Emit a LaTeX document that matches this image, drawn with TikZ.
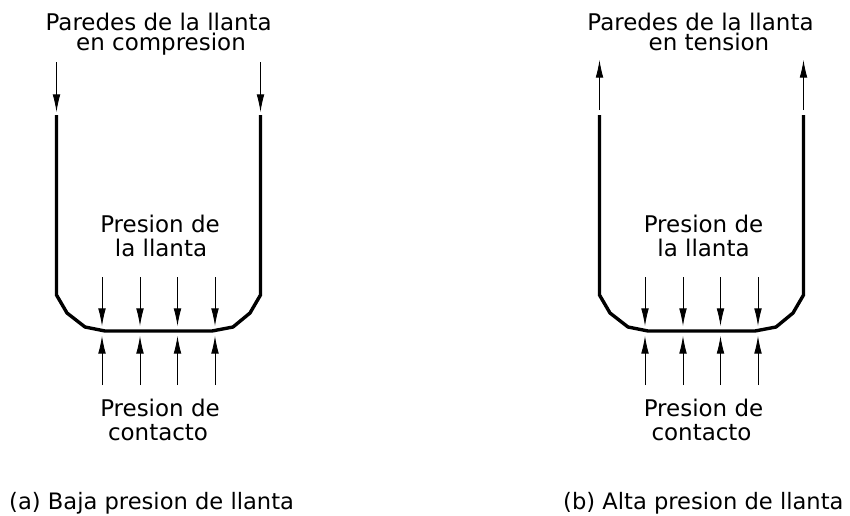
\documentclass[tikz,border=0pt]{standalone}
\usepackage{fontspec}
\setmainfont{DejaVu Sans}
\usetikzlibrary{arrows.meta}
\tikzset{
  label/.style={font=\fontsize{19.6}{20}\selectfont,text=black,anchor=base,inner sep=0pt},
  caption/.style={font=\fontsize{19.3}{20}\selectfont,text=black,anchor=base west,inner sep=0pt},
  tyre/.style={draw=black,line width=2.9pt,line join=miter},
  force/.style={draw=black,line width=0.7pt,-{Latex[length=15pt,width=6.5pt]}}
}
\begin{document}
\begin{tikzpicture}[x=0.3mm,y=-0.3mm]
\useasboundingbox (0,0) rectangle (850,515);
\draw[tyre] (56.5,115) -- (56.5,295) -- (67,313) -- (85,327) -- (105,331) -- (212,331) -- (233,327) -- (250,313) -- (260.5,295) -- (260.5,115);
\draw[force] (56.5,62) -- (56.5,112);
\draw[force] (260.5,62) -- (260.5,112);
\draw[force] (102,277) -- (102,326);
\draw[force] (140,277) -- (140,326);
\draw[force] (177.5,277) -- (177.5,326);
\draw[force] (215,277) -- (215,326);
\draw[force] (102,385) -- (102,336);
\draw[force] (140,385) -- (140,336);
\draw[force] (177.5,385) -- (177.5,336);
\draw[force] (215,385) -- (215,336);
\node[label] (wallsa) at (158.7,31) {Paredes de la llanta};
\node[label] (statea) at (161,50) {en compresion};
\node[label] (pressa) at (160,232.7) {Presion de};
\node[label] (tyrea) at (161,256.7) {la llanta};
\node[label] (contacta) at (160,416.7) {Presion de};
\node[label] (patcha) at (158,440) {contacto};
\node[caption] (capa) at (9,509) {(a) Baja presion de llanta};

\draw[tyre] (599.5,115) -- (599.5,295) -- (610,313) -- (628,327) -- (648,331) -- (755,331) -- (776,327) -- (793,313) -- (803.5,295) -- (803.5,115);
\draw[force] (599.5,110) -- (599.5,60);
\draw[force] (803.5,110) -- (803.5,60);
\draw[force] (645,277) -- (645,326);
\draw[force] (683,277) -- (683,326);
\draw[force] (720.5,277) -- (720.5,326);
\draw[force] (758,277) -- (758,326);
\draw[force] (645,385) -- (645,336);
\draw[force] (683,385) -- (683,336);
\draw[force] (720.5,385) -- (720.5,336);
\draw[force] (758,385) -- (758,336);
\node[label] (wallsb) at (700.5,31) {Paredes de la llanta};
\node[label] (stateb) at (709,50) {en tension};
\node[label] (pressb) at (703.5,232.7) {Presion de};
\node[label] (tyreb) at (703.5,256.7) {la llanta};
\node[label] (contactb) at (703.5,416.7) {Presion de};
\node[label] (patchb) at (701.5,440) {contacto};
\node[caption] (capb) at (563,509) {(b) Alta presion de llanta};
\end{tikzpicture}
\end{document}
